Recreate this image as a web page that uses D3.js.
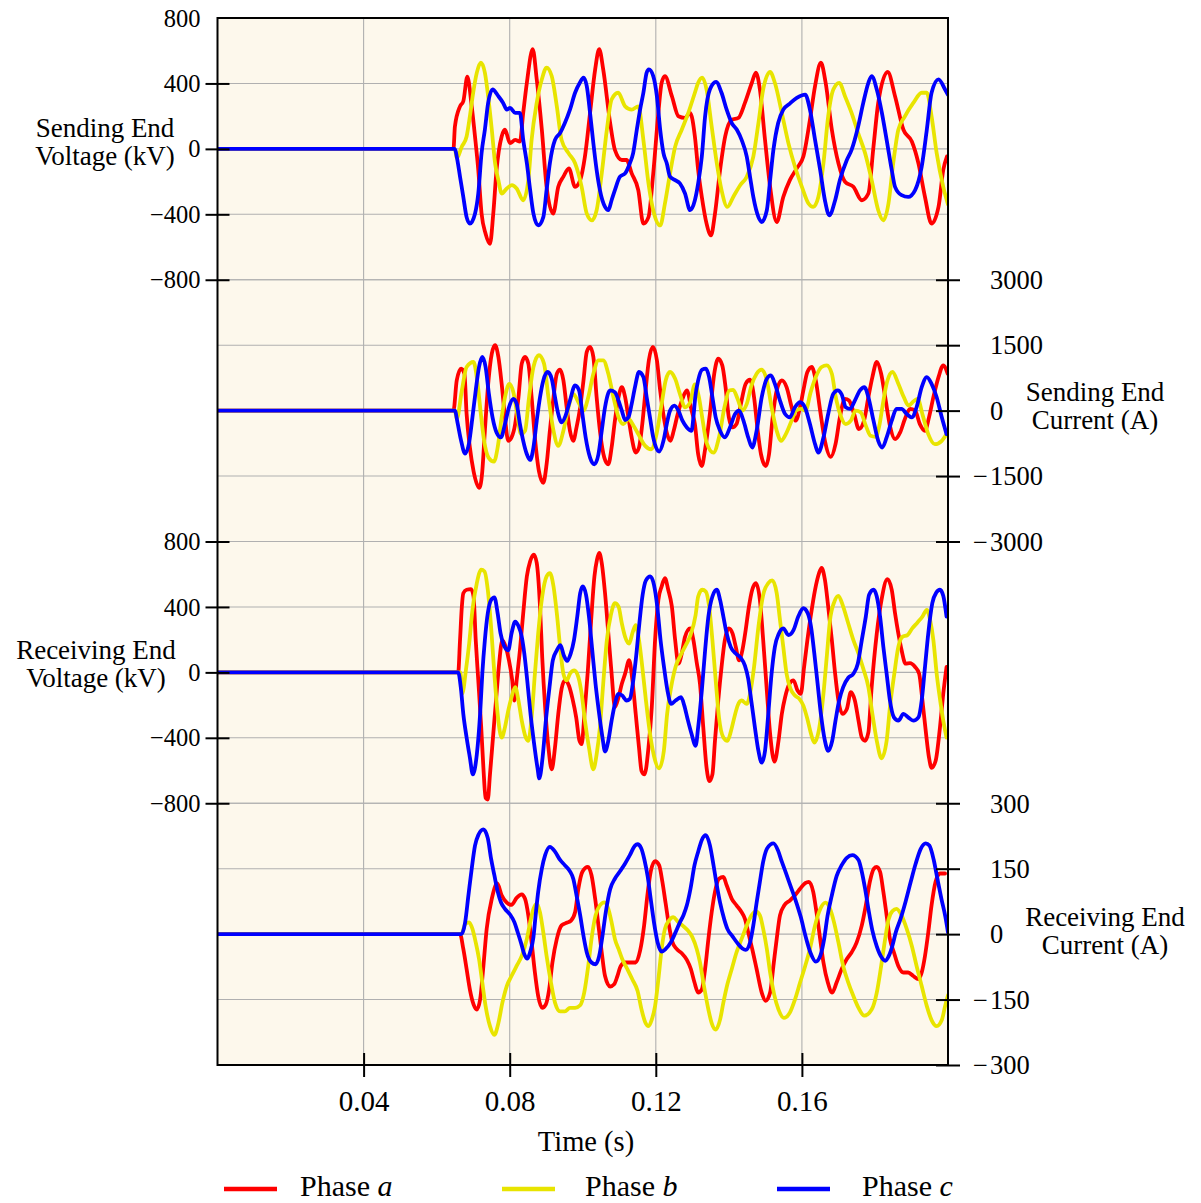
<!DOCTYPE html>
<html>
<head>
<meta charset="utf-8">
<script src="https://cdn.jsdelivr.net/npm/d3@7"></script>
<style>
  body { margin: 0; background: #ffffff; }
  svg { display: block; }
  text { font-family: "Liberation Serif", "Times New Roman", serif; fill: #000; }
</style>
</head>
<body>
<svg id="chart" width="1201" height="1203"></svg>
<script>
// ---- Data: [time (ms), value] pairs for each phase ----
const sendVoltA = [[0,0],[64.6,0],[65.0,137],[66.4,260],[67.3,291],[68.4,441],[69.6,260],[70.5,76],[71.4,-129],[72.3,-396],[73.4,-519],[74.6,-580],[75.5,-396],[76.4,-129],[77.8,76],[78.7,117],[80.1,35],[81.5,55],[82.8,45],[83.7,220],[84.7,404],[86.3,609],[87.4,425],[88.8,117],[90.1,-232],[91.9,-396],[93.3,-232],[94.7,-170],[96.2,-119],[97.9,-232],[99.3,-191],[100.6,-47],[102.0,220],[103.4,486],[104.5,609],[105.6,486],[107.5,158],[108.8,-6],[110.7,-68],[112.0,-68],[113.4,-150],[115.2,-252],[116.6,-457],[118.0,-417],[119.3,-150],[120.7,220],[121.6,404],[122.5,445],[124.4,322],[126.2,199],[128.0,189],[129.4,220],[130.7,76],[131.6,-129],[132.6,-294],[133.9,-457],[135.1,-529],[136.2,-396],[137.6,-129],[139.0,76],[140.8,178],[142.6,189],[144.4,281],[146.3,404],[147.4,466],[148.5,363],[149.9,55],[151.3,-232],[153.1,-447],[154.9,-294],[156.7,-191],[158.6,-119],[160.4,-47],[162.2,178],[163.6,384],[165.2,527],[166.5,404],[168.2,117],[170.0,-88],[171.8,-201],[174.1,-232],[176.4,-314],[178.2,-273],[179.6,14],[180.9,281],[183.5,470],[185.5,322],[187.8,117],[190.1,45],[191.9,-88],[193.7,-294],[195.5,-457],[197.4,-355],[198.7,-129],[199.7,-47]];
const sendVoltB = [[0,0],[65.0,0],[65.5,-57],[66.9,14],[68.2,76],[69.1,199],[70.0,343],[71.0,466],[72.1,527],[73.2,466],[74.1,322],[75.1,117],[76.0,-88],[76.9,-191],[77.8,-273],[79.2,-242],[80.6,-222],[81.9,-242],[83.7,-314],[85.1,-191],[86.0,55],[87.4,281],[88.8,425],[90.1,497],[91.5,445],[92.9,260],[94.2,55],[96.1,-26],[97.9,-88],[99.7,-232],[101.1,-396],[102.5,-437],[103.8,-375],[105.2,-150],[106.6,117],[107.9,302],[109.7,343],[111.6,260],[113.4,240],[115.2,260],[116.6,55],[118.0,-211],[119.3,-375],[121.2,-468],[122.5,-334],[123.9,-150],[125.3,14],[127.1,117],[128.9,220],[130.7,343],[131.6,404],[132.7,435],[133.9,363],[135.3,137],[136.7,-88],[138.0,-252],[139.6,-355],[141.2,-294],[143.1,-222],[144.9,-170],[146.7,-47],[148.1,158],[149.4,363],[151.3,470],[152.6,404],[154.5,220],[156.3,35],[158.1,-109],[160.0,-232],[161.8,-334],[163.1,-355],[164.5,-294],[165.9,-88],[167.2,199],[168.6,363],[170.2,404],[171.8,322],[173.6,220],[175.4,97],[177.3,-26],[179.1,-191],[180.9,-375],[182.3,-437],[183.7,-334],[185.0,-88],[186.4,117],[188.2,199],[190.5,281],[192.8,343],[194.2,343],[195.5,199],[196.9,-26],[198.7,-232],[200.0,-340]];
const sendVoltC = [[0,0],[65.0,0],[65.5,-47],[66.4,-170],[67.3,-294],[68.2,-417],[69.1,-457],[70.5,-396],[71.4,-273],[72.3,-26],[73.2,117],[74.1,281],[75.3,363],[76.9,322],[78.2,281],[79.2,240],[80.1,250],[81.5,220],[82.8,220],[83.7,55],[84.7,-88],[85.6,-252],[86.5,-396],[87.8,-468],[89.2,-417],[90.1,-252],[91.0,-88],[92.4,55],[93.8,97],[95.1,158],[96.5,240],[97.9,343],[99.2,404],[100.2,435],[101.1,384],[102.0,220],[102.9,35],[103.8,-129],[104.7,-252],[106.1,-355],[107.0,-375],[107.9,-314],[108.8,-252],[110.2,-170],[111.6,-150],[112.9,-88],[113.8,-26],[114.8,117],[115.7,240],[116.6,343],[117.5,466],[118.1,486],[119.3,445],[120.3,322],[121.2,117],[122.1,-26],[123.0,-88],[123.9,-170],[125.3,-191],[126.6,-211],[128.0,-273],[129.4,-375],[130.7,-314],[131.6,-211],[132.6,-47],[133.5,199],[134.8,363],[136.5,410],[138.0,343],[139.4,240],[140.8,158],[142.2,117],[143.5,55],[144.9,-47],[145.8,-170],[146.7,-294],[148.1,-417],[149.0,-447],[150.4,-375],[151.3,-191],[152.2,-6],[153.5,158],[154.9,240],[156.7,277],[158.6,312],[160.9,332],[162.2,240],[163.6,55],[165.0,-129],[166.3,-314],[167.5,-406],[169.1,-314],[170.4,-191],[172.3,-68],[173.6,-6],[175.4,137],[176.8,281],[178.2,404],[179.1,445],[180.5,363],[181.9,220],[183.2,55],[184.6,-129],[185.5,-232],[187.3,-283],[189.1,-294],[191.0,-252],[192.8,-109],[194.2,117],[195.5,343],[197.4,425],[199.2,363],[200.0,330]];

const sendCurA = [[0,0],[64.6,0],[65.5,692],[66.7,962],[67.6,846],[68.2,-77],[69.1,-846],[70.1,-1385],[71.7,-1769],[72.5,-1385],[73.2,-462],[74.2,692],[75.1,1308],[76.0,1500],[76.9,1231],[77.8,615],[78.7,-154],[79.6,-692],[80.5,-615],[81.5,-308],[82.4,308],[83.3,1077],[84.2,1231],[85.1,1077],[86.0,308],[86.9,-615],[88.0,-1385],[89.2,-1654],[90.1,-1231],[91.0,-462],[92.0,308],[92.9,846],[93.8,938],[94.7,692],[95.6,77],[96.5,-462],[97.4,-692],[98.3,-385],[99.3,77],[100.2,692],[101.1,1346],[102.0,1462],[102.9,1231],[103.8,308],[104.7,-462],[105.9,-1077],[107.0,-1231],[107.9,-846],[108.8,-231],[109.8,308],[110.7,538],[111.6,308],[112.5,-154],[113.4,-615],[114.5,-962],[115.4,-846],[116.3,-308],[117.2,462],[118.1,1154],[119.2,1462],[120.3,1154],[121.2,462],[122.2,-154],[123.1,-538],[124.0,-692],[124.9,-462],[126.0,-77],[127.3,269],[128.5,462],[129.8,0],[130.7,-308],[131.6,-1000],[132.6,-1269],[133.5,-885],[134.8,-77],[136.0,846],[137.1,1192],[138.2,1038],[139.1,538],[140.0,-154],[141.0,-385],[142.1,-308],[143.3,154],[144.6,615],[145.8,708],[146.9,308],[147.8,-385],[148.8,-1000],[150.1,-1269],[151.0,-1000],[151.9,-231],[153.1,462],[154.5,692],[155.8,538],[157.2,77],[158.3,-231],[159.5,77],[160.4,462],[161.5,885],[162.7,1000],[163.8,692],[165.0,0],[166.3,-692],[167.9,-1062],[169.2,-769],[170.4,-154],[171.8,269],[172.9,231],[174.3,-77],[175.6,-423],[177.0,-231],[178.2,308],[179.3,769],[180.5,1115],[181.7,846],[182.8,308],[184.1,-346],[185.5,-654],[186.9,-500],[188.2,-192],[189.6,38],[191.0,0],[192.3,-308],[193.7,-462],[194.8,-154],[196.0,308],[197.4,769],[198.7,1038],[199.9,846]];
const sendCurB = [[0,0],[65.0,0],[65.5,-192],[66.9,462],[68.2,1000],[70.1,1115],[71.1,692],[72.1,-77],[73.0,-692],[74.2,-1077],[75.7,-1169],[76.7,-846],[77.8,-154],[78.9,385],[79.9,615],[81.0,423],[81.9,0],[83.1,-538],[84.2,-462],[85.3,308],[86.5,1000],[88.0,1269],[89.4,1077],[90.6,308],[92.0,-462],[93.3,-808],[94.7,-462],[96.1,77],[97.4,385],[98.8,192],[100.2,0],[101.5,308],[102.9,846],[104.3,1154],[105.6,1154],[107.0,846],[108.4,308],[109.8,-154],[111.1,-308],[112.5,-192],[113.9,-346],[115.2,-538],[117.1,-808],[118.7,-885],[120.2,-538],[121.6,154],[122.7,692],[123.9,885],[125.3,731],[126.6,385],[128.0,77],[129.4,192],[130.7,600],[131.8,308],[132.7,-154],[133.9,-731],[135.8,-962],[137.3,-615],[138.8,77],[140.1,462],[141.2,477],[142.4,269],[143.7,0],[144.9,154],[146.2,577],[147.6,846],[149.0,938],[150.4,692],[151.7,77],[153.1,-462],[154.3,-692],[155.6,-538],[157.0,-269],[158.4,0],[159.8,38],[161.0,0],[162.4,423],[163.8,769],[165.4,1000],[166.8,1038],[168.2,846],[169.2,346],[170.6,-115],[172.0,-308],[173.4,-231],[174.7,0],[176.1,-38],[177.5,-346],[178.8,-577],[180.2,-600],[181.2,-346],[182.1,115],[183.3,654],[184.8,885],[186.4,615],[187.9,308],[189.2,115],[190.6,215],[191.7,269],[193.1,-115],[194.6,-538],[196.4,-769],[198.3,-692],[199.6,-538]];
const sendCurC = [[0,0],[65.0,0],[65.7,-269],[66.6,-654],[67.8,-985],[68.9,-731],[69.8,-154],[70.7,462],[71.6,1000],[72.5,1231],[73.4,1000],[74.3,385],[75.3,-154],[76.4,-500],[77.6,-615],[78.7,-308],[79.8,77],[81.0,269],[81.9,154],[82.8,-308],[83.7,-692],[84.7,-1000],[85.6,-1131],[86.5,-846],[87.4,-231],[88.3,308],[89.2,692],[90.4,885],[91.5,731],[92.4,308],[93.3,-77],[94.2,-269],[95.3,-115],[96.5,231],[97.9,577],[99.0,462],[99.9,-77],[100.8,-615],[102.0,-1077],[103.2,-1231],[104.3,-1000],[105.2,-462],[106.1,77],[107.5,462],[108.8,423],[109.8,231],[110.7,0],[111.6,-215],[112.5,-154],[113.4,154],[114.3,538],[115.4,885],[116.6,769],[117.5,308],[118.4,-154],[119.3,-615],[120.9,-938],[122.1,-692],[123.0,-308],[123.9,0],[125.1,115],[126.2,0],[127.3,-231],[128.5,-385],[129.8,-462],[130.3,-150],[130.8,308],[131.6,692],[132.7,938],[133.7,962],[134.6,769],[135.5,308],[136.4,-154],[137.6,-462],[138.9,-615],[140.3,-385],[141.7,-77],[142.8,0],[144.0,-231],[145.3,-615],[146.4,-846],[147.6,-462],[149.0,308],[150.4,731],[151.5,808],[152.6,615],[154.0,231],[155.4,-77],[156.7,-154],[158.1,77],[159.5,192],[160.9,62],[162.2,-308],[163.6,-769],[164.5,-962],[165.9,-615],[167.2,-77],[168.6,385],[169.8,462],[170.9,369],[172.0,77],[173.2,38],[174.5,231],[175.9,462],[177.1,538],[178.2,308],[179.6,-231],[180.9,-692],[182.0,-846],[183.2,-615],[184.6,-231],[185.9,38],[187.3,38],[188.7,-77],[190.1,-154],[191.4,77],[192.8,538],[194.2,769],[195.5,615],[196.9,308],[198.3,-154],[199.6,-538]];

const recvVoltA = [[0,0],[65.9,0],[66.4,197],[66.9,402],[67.3,484],[68.2,505],[69.4,509],[70.1,464],[70.7,197],[71.4,-49],[72.2,-336],[72.8,-583],[73.4,-767],[74.0,-777],[74.6,-624],[75.5,-377],[76.4,-131],[77.1,53],[78.0,197],[78.9,156],[79.8,74],[80.7,-49],[81.3,-172],[81.9,-49],[82.8,135],[83.7,361],[84.7,587],[85.6,679],[86.6,720],[87.4,669],[88.3,402],[88.9,94],[89.7,-213],[90.6,-459],[91.5,-593],[92.4,-459],[93.3,-254],[94.2,-101],[95.1,-49],[96.2,-80],[97.2,-162],[98.2,-275],[99.1,-418],[99.7,-439],[100.4,-275],[101.4,12],[102.3,320],[103.2,587],[103.9,689],[104.5,730],[105.2,669],[106.1,484],[107.0,238],[107.9,-8],[108.8,-213],[109.8,-152],[110.7,-70],[111.6,-8],[112.7,74],[113.6,-49],[114.5,-254],[115.4,-459],[116.1,-603],[116.9,-624],[118.0,-459],[118.9,-213],[119.8,197],[120.7,443],[121.6,525],[122.5,576],[123.4,505],[124.4,402],[125.3,197],[126.2,53],[127.1,115],[128.0,217],[129.4,269],[130.3,197],[131.2,60],[132.1,-70],[133.0,-336],[133.9,-583],[134.7,-665],[135.5,-624],[136.2,-418],[137.1,-172],[138.0,33],[138.9,197],[140.0,269],[141.0,238],[141.9,156],[142.8,74],[143.7,135],[144.6,258],[145.5,402],[146.4,505],[147.4,546],[148.5,443],[149.4,197],[150.4,-111],[151.3,-377],[152.5,-546],[153.6,-418],[154.5,-254],[155.4,-152],[156.6,-70],[157.7,-49],[158.8,-111],[159.7,-131],[160.6,33],[161.5,197],[162.4,341],[163.6,505],[164.7,607],[165.4,638],[166.3,566],[167.2,402],[168.2,197],[169.1,-8],[170.0,-172],[171.1,-254],[172.3,-224],[173.4,-121],[174.5,-172],[175.5,-295],[176.4,-398],[177.3,-418],[178.2,-367],[179.1,-90],[180.5,238],[181.8,443],[183.4,570],[184.6,505],[185.5,361],[186.4,238],[187.3,135],[188.4,53],[189.6,57],[191.0,33],[192.1,-8],[193.0,-172],[193.9,-357],[194.8,-521],[195.5,-583],[196.6,-542],[197.8,-336],[198.7,-131],[199.6,33]];
const recvVoltB = [[0,0],[66.5,0],[67.0,-131],[68.0,12],[68.9,176],[69.8,382],[71.0,546],[72.2,628],[73.1,617],[74.0,505],[74.9,279],[75.8,-8],[76.7,-254],[77.8,-398],[78.7,-336],[79.6,-234],[80.5,-152],[81.5,-90],[82.4,-172],[83.3,-295],[84.4,-398],[85.1,-418],[86.0,-275],[86.9,-8],[87.8,238],[88.9,464],[90.1,587],[91.0,607],[92.0,525],[92.9,361],[93.8,156],[94.7,-8],[95.6,-49],[96.5,-8],[97.7,12],[98.8,-29],[99.7,-131],[100.6,-295],[101.7,-459],[102.9,-593],[103.8,-501],[104.7,-336],[105.6,-70],[106.6,197],[107.7,351],[108.8,423],[109.8,402],[110.7,299],[111.6,217],[112.7,176],[113.7,248],[114.5,289],[115.4,197],[116.3,33],[117.2,-152],[118.3,-357],[119.5,-511],[120.9,-587],[122.2,-480],[123.1,-254],[124.2,-90],[125.4,33],[126.8,105],[128.2,166],[129.5,228],[130.9,351],[131.6,464],[132.7,505],[133.7,494],[134.6,402],[135.5,197],[136.4,-49],[137.3,-275],[138.5,-398],[139.6,-418],[140.6,-357],[141.5,-275],[142.4,-203],[143.5,-172],[144.9,-193],[145.8,-131],[146.9,33],[148.1,279],[149.4,474],[150.8,546],[151.9,562],[153.1,484],[154.0,320],[154.9,156],[155.8,-8],[156.9,-101],[158.1,-142],[159.3,-162],[160.4,-203],[161.5,-285],[162.4,-367],[163.4,-429],[164.7,-347],[165.9,-131],[166.8,94],[167.7,320],[168.9,433],[170.0,468],[171.3,402],[172.7,299],[174.1,197],[175.5,115],[176.8,23],[178.2,-90],[179.3,-254],[180.5,-418],[181.8,-525],[183.2,-418],[184.1,-213],[185.3,-8],[186.4,156],[187.5,217],[188.9,228],[190.2,269],[191.6,304],[193.0,341],[194.2,382],[195.1,320],[196.0,197],[196.9,-8],[197.8,-162],[198.7,-295],[199.6,-398]];
const recvVoltC = [[0,0],[65.9,0],[66.6,-90],[67.3,-254],[68.2,-398],[69.1,-521],[69.9,-624],[71.0,-501],[71.9,-254],[72.5,-8],[73.2,197],[74.0,361],[74.9,443],[75.8,459],[76.7,361],[77.5,238],[78.4,166],[79.6,135],[80.5,238],[81.5,310],[82.4,283],[83.3,217],[84.0,115],[84.8,-49],[85.7,-254],[86.7,-439],[87.6,-583],[88.1,-648],[89.0,-521],[89.9,-295],[90.9,-90],[91.8,74],[92.9,135],[93.9,166],[94.8,105],[95.7,70],[96.7,115],[97.6,197],[98.5,341],[99.3,484],[100.0,525],[100.9,474],[101.7,341],[102.6,135],[103.5,-70],[104.5,-254],[105.4,-398],[106.1,-484],[107.0,-418],[107.9,-295],[108.8,-193],[109.8,-131],[110.8,-142],[112.0,-172],[112.9,-162],[113.7,-70],[114.6,94],[115.5,299],[116.4,474],[117.3,562],[118.5,587],[119.5,535],[120.4,402],[121.3,197],[122.3,23],[123.2,-111],[124.2,-193],[125.4,-172],[126.9,-152],[127.8,-203],[128.7,-285],[129.8,-377],[130.9,-449],[131.6,-336],[132.6,-111],[133.5,135],[134.4,341],[135.5,464],[136.7,505],[137.6,443],[138.5,341],[139.4,238],[140.5,156],[141.9,115],[143.2,90],[144.4,41],[145.3,-39],[146.2,-183],[147.2,-347],[148.1,-480],[149.0,-552],[149.9,-480],[150.8,-254],[151.7,-8],[152.6,156],[153.7,238],[154.9,269],[156.3,228],[157.7,258],[159.0,341],[160.4,392],[161.6,361],[162.5,279],[163.4,115],[164.3,-70],[165.2,-254],[166.3,-418],[167.2,-480],[168.3,-418],[169.2,-295],[170.2,-172],[171.3,-90],[172.7,-33],[174.1,-8],[175.3,53],[176.4,197],[177.5,341],[178.4,474],[179.6,505],[180.5,464],[181.4,341],[182.3,156],[183.2,-8],[184.1,-172],[185.2,-275],[186.4,-295],[187.8,-254],[189.1,-275],[190.5,-295],[191.9,-275],[192.8,-172],[193.7,33],[194.6,238],[195.7,423],[196.8,488],[197.8,505],[198.7,468],[199.6,341]];

const recvCurA = [[0,0],[66.4,0],[67.3,-34],[68.2,-80],[69.1,-127],[70.1,-161],[71.0,-173],[71.9,-150],[72.8,-73],[73.7,12],[75.1,81],[76.6,116],[77.8,89],[79.2,72],[80.5,67],[81.9,83],[83.3,91],[84.2,81],[85.1,43],[86.0,-19],[86.9,-88],[87.8,-142],[88.9,-169],[89.9,-161],[90.8,-127],[91.7,-65],[92.9,-11],[94.2,20],[95.6,26],[96.8,31],[97.9,50],[98.8,104],[99.9,143],[101.4,154],[102.4,135],[103.4,81],[104.3,20],[105.2,-42],[106.1,-96],[107.5,-120],[108.6,-115],[109.5,-96],[110.4,-73],[111.6,-65],[113.1,-65],[114.5,-65],[115.7,-38],[116.8,20],[117.7,89],[118.6,143],[119.8,167],[120.9,158],[121.8,120],[122.7,70],[123.6,20],[124.5,-17],[125.7,-34],[127.1,-44],[128.5,-59],[129.6,-80],[130.6,-111],[131.6,-134],[132.6,-127],[133.5,-80],[134.4,-11],[135.3,50],[136.2,97],[137.3,127],[138.5,131],[139.4,112],[140.8,81],[142.1,66],[143.5,50],[144.4,35],[145.3,4],[146.4,-34],[147.6,-80],[149.0,-134],[150.1,-153],[151.3,-134],[152.2,-73],[153.1,-11],[154.0,43],[155.2,66],[156.7,77],[158.1,89],[159.5,104],[160.9,117],[161.9,120],[163.1,97],[164.0,50],[165.0,-11],[165.9,-65],[167.1,-111],[168.3,-134],[169.5,-111],[170.9,-80],[172.3,-57],[173.6,-42],[175.0,-19],[176.4,20],[177.5,66],[178.6,120],[179.7,150],[180.5,154],[181.4,143],[182.3,97],[183.2,43],[184.1,-11],[185.2,-42],[186.4,-73],[187.8,-88],[189.1,-88],[190.5,-96],[191.9,-103],[192.8,-88],[193.7,-50],[194.6,4],[195.5,66],[196.6,120],[197.8,139],[199.2,139]];
const recvCurB = [[0,0],[66.8,0],[67.8,23],[68.9,27],[69.8,12],[70.7,-19],[71.6,-57],[72.5,-111],[73.4,-165],[74.6,-211],[75.8,-231],[76.9,-204],[78.0,-157],[79.2,-119],[80.5,-96],[81.9,-73],[83.3,-50],[84.7,-11],[85.6,27],[86.5,58],[87.4,70],[88.3,50],[89.2,4],[90.1,-50],[91.3,-111],[92.4,-157],[93.8,-177],[95.1,-177],[96.5,-169],[97.9,-169],[99.3,-163],[100.4,-134],[101.5,-73],[102.4,-11],[103.5,43],[104.7,66],[105.9,73],[107.0,58],[107.9,27],[108.8,-11],[109.8,-34],[110.8,-57],[112.2,-80],[113.6,-104],[115.0,-130],[116.1,-173],[117.1,-202],[118.0,-211],[118.9,-196],[119.8,-165],[120.7,-104],[121.6,-34],[122.5,12],[123.6,31],[124.8,39],[126.0,29],[127.3,20],[128.6,10],[130.0,-7],[131.2,-34],[132.1,-65],[133.0,-110],[134.4,-173],[135.3,-204],[136.4,-219],[137.6,-196],[138.5,-157],[139.6,-115],[140.8,-80],[142.1,-42],[143.5,-11],[144.9,20],[146.2,43],[147.4,52],[148.5,43],[149.4,12],[150.4,-34],[151.3,-88],[152.4,-138],[153.6,-173],[155.1,-192],[156.7,-180],[158.1,-150],[159.5,-111],[160.9,-73],[162.2,-34],[163.6,20],[165.0,57],[166.5,72],[167.7,58],[168.8,27],[170.0,-19],[171.3,-73],[172.7,-111],[174.1,-142],[175.5,-169],[177.1,-187],[179.1,-173],[180.5,-134],[181.7,-73],[182.8,-11],[183.7,33],[184.8,53],[185.9,58],[187.3,43],[188.7,12],[190.1,-27],[191.4,-73],[192.8,-119],[194.2,-165],[195.5,-197],[196.9,-211],[198.3,-197],[199.2,-165],[200.0,-140]];
const recvCurC = [[0,0],[66.8,0],[67.8,27],[68.7,89],[69.6,150],[70.5,203],[71.4,227],[72.8,240],[74.0,220],[74.9,173],[75.8,135],[76.7,98],[77.6,73],[78.7,58],[80.1,45],[81.3,27],[82.2,4],[83.1,-20],[84.0,-46],[84.8,-56],[85.7,-38],[86.5,-7],[87.1,43],[87.8,97],[88.8,150],[89.7,181],[91.0,200],[92.4,189],[93.8,170],[95.1,158],[96.5,144],[97.4,127],[98.3,89],[99.3,43],[100.2,-4],[101.1,-42],[102.4,-65],[103.5,-69],[104.5,-50],[105.4,-4],[106.3,50],[107.5,103],[108.8,127],[110.2,144],[111.6,162],[112.9,181],[114.3,203],[115.0,206],[116.0,197],[116.9,170],[117.8,131],[118.6,81],[119.5,27],[120.5,-19],[121.6,-40],[122.7,-34],[124.1,-19],[125.4,4],[126.6,27],[127.6,44],[128.5,66],[129.5,104],[130.6,158],[131.6,189],[132.6,216],[133.7,227],[134.8,204],[135.8,158],[136.7,112],[137.6,72],[138.7,35],[139.6,12],[141.0,-5],[142.3,-20],[143.7,-33],[144.6,-36],[145.8,-19],[146.7,20],[147.6,72],[148.5,120],[149.4,166],[150.5,197],[152.2,208],[153.4,193],[154.5,166],[155.6,141],[156.9,110],[158.3,77],[159.7,39],[161.0,-5],[162.4,-44],[163.8,-63],[165.1,-48],[166.1,-11],[167.0,41],[168.2,89],[169.5,133],[170.9,158],[172.3,175],[173.8,181],[175.5,170],[176.4,143],[177.3,104],[178.2,58],[179.3,8],[180.5,-28],[181.8,-53],[182.8,-61],[183.8,-50],[184.8,-26],[185.7,4],[187.0,35],[188.4,75],[189.8,120],[191.1,160],[192.5,195],[193.9,208],[194.9,203],[196.1,170],[197.1,127],[198.2,81],[199.3,39],[200.0,4]];

// ---- Axis ticks and labels ----
const timeTicks = [0.04, 0.08, 0.12, 0.16];
const voltageTicks = [800, 400, 0, -400, -800];
const sendCurrentTicks = [3000, 1500, 0, -1500, -3000];
const recvCurrentTicks = [300, 150, 0, -150, -300];
const phaseNames = ["a", "b", "c"];
const phaseColors = ["#ff0000", "#e8e400", "#0000ff"];
const panelTitles = [
  ["Sending End", "Voltage (kV)"],
  ["Sending End", "Current (A)"],
  ["Receiving End", "Voltage (kV)"],
  ["Receiving End", "Current (A)"]
];

// ---- Layout ----
const plot = { left: 217.5, right: 948, top: 18, bottom: 1065 };
const panelH = (plot.bottom - plot.top) / 4;

const panels = [
  { title: panelTitles[0], side: "left",  ticks: voltageTicks,     series: [sendVoltA, sendVoltB, sendVoltC], titleX: 105, titleY: 137, skipTopTick: true },
  { title: panelTitles[1], side: "right", ticks: sendCurrentTicks, series: [sendCurA, sendCurB, sendCurC],    titleX: 1095, titleY: 401 },
  { title: panelTitles[2], side: "left",  ticks: voltageTicks,     series: [recvVoltA, recvVoltB, recvVoltC], titleX: 96, titleY: 659 },
  { title: panelTitles[3], side: "right", ticks: recvCurrentTicks, series: [recvCurA, recvCurB, recvCurC],    titleX: 1105, titleY: 926 }
];

const svg = d3.select("#chart");
const x = d3.scaleLinear().domain([0, 0.2]).range([plot.left, plot.right]);

// plot background
svg.append("rect")
  .attr("x", plot.left).attr("y", plot.top)
  .attr("width", plot.right - plot.left).attr("height", plot.bottom - plot.top)
  .attr("fill", "#fdf8ec");

svg.append("defs").append("clipPath").attr("id", "plotClip")
  .append("rect")
  .attr("x", plot.left).attr("y", plot.top)
  .attr("width", plot.right - plot.left).attr("height", plot.bottom - plot.top);

const gridG = svg.append("g").attr("stroke", "#b0b0b0").attr("stroke-width", 1.1);
const linesG = svg.append("g").attr("clip-path", "url(#plotClip)");
const axesG = svg.append("g");

// vertical grid lines
gridG.selectAll("line.v").data(timeTicks).join("line")
  .attr("x1", d => x(d)).attr("x2", d => x(d))
  .attr("y1", plot.top).attr("y2", plot.bottom);

panels.forEach((p, i) => {
  const top = plot.top + i * panelH;
  const bottom = top + panelH;
  const ext = d3.extent(p.ticks);
  const y = d3.scaleLinear().domain(ext).range([bottom, top]);

  // horizontal grid lines
  gridG.append("g").selectAll("line").data(p.ticks).join("line")
    .attr("x1", plot.left).attr("x2", plot.right)
    .attr("y1", d => y(d)).attr("y2", d => y(d));

  // phase traces
  const line = d3.line()
    .x(d => x(d[0] / 1000))
    .y(d => y(d[1]))
    .curve(d3.curveMonotoneX);
  p.series.forEach((s, k) => {
    linesG.append("path")
      .datum(s)
      .attr("d", line)
      .attr("fill", "none")
      .attr("stroke", phaseColors[k])
      .attr("stroke-width", 3.8)
      .attr("stroke-linejoin", "round")
      .attr("stroke-linecap", "round");
  });

  // axis
  if (p.side === "left") {
    const ag = axesG.append("g").attr("transform", `translate(${plot.left},0)`)
      .call(d3.axisLeft(y).tickValues(p.ticks).tickSize(12).tickPadding(5).tickFormat(d3.format("d")));
    ag.select(".domain").remove();
    ag.selectAll(".tick line").attr("x1", 12).attr("stroke", "#000").attr("stroke-width", 2);
    if (p.skipTopTick) ag.selectAll(".tick").filter(d => d === ext[1]).select("line").remove();
    ag.selectAll(".tick text").attr("font-size", 24.5).attr("x", -17).attr("dy", "0.33em");
    ag.attr("font-family", null).attr("font-size", null);
  } else {
    const ag = axesG.append("g").attr("transform", `translate(${plot.right},0)`)
      .call(d3.axisRight(y).tickValues(p.ticks).tickSize(12).tickPadding(30)
        .tickFormat(d => d3.format("d")(Math.abs(d))));
    ag.select(".domain").remove();
    ag.selectAll(".tick line").attr("x1", -12).attr("stroke", "#000").attr("stroke-width", 2);
    ag.selectAll(".tick text").attr("font-size", 26.5).attr("x", 42).attr("dy", "0.33em");
    ag.selectAll(".tick").filter(d => d < 0).append("text")
      .attr("x", 40).attr("dy", "0.33em").attr("text-anchor", "end")
      .attr("font-size", 26.5).attr("fill", "#000").text("\u2212");
    ag.attr("font-family", null).attr("font-size", null);
  }

  // panel title
  const t = axesG.append("text")
    .attr("text-anchor", "middle").attr("font-size", 27);
  p.title.forEach((ln, j) => {
    t.append("tspan").attr("x", p.titleX).attr("y", p.titleY + j * 28).text(ln);
  });
});

// time axis
const xa = axesG.append("g").attr("transform", `translate(0,${plot.bottom})`)
  .call(d3.axisBottom(x).tickValues(timeTicks).tickSize(12).tickFormat(d3.format(".2f")));
xa.select(".domain").remove();
xa.selectAll(".tick line").attr("y1", -12).attr("stroke", "#000").attr("stroke-width", 2);
xa.selectAll(".tick text").attr("font-size", 29).attr("y", 46).attr("dy", null);
xa.attr("font-family", null).attr("font-size", null);

axesG.append("text")
  .attr("x", 586).attr("y", 1151).attr("text-anchor", "middle").attr("font-size", 28.5)
  .text("Time (s)");

// frame
axesG.append("rect")
  .attr("x", plot.left).attr("y", plot.top)
  .attr("width", plot.right - plot.left).attr("height", plot.bottom - plot.top)
  .attr("fill", "none").attr("stroke", "#000").attr("stroke-width", 2);

// legend
const legendLineX = [224, 502, 777];
const legendTextX = [300, 585, 862];
const legend = svg.append("g");
phaseNames.forEach((nm, k) => {
  legend.append("line")
    .attr("x1", legendLineX[k]).attr("x2", legendLineX[k] + 53)
    .attr("y1", 1189).attr("y2", 1189)
    .attr("stroke", phaseColors[k]).attr("stroke-width", 4.5);
  const tx = legend.append("text").attr("x", legendTextX[k]).attr("y", 1196).attr("font-size", 30);
  tx.append("tspan").text("Phase ");
  tx.append("tspan").attr("font-style", "italic").text(nm);
});
</script>
</body>
</html>
